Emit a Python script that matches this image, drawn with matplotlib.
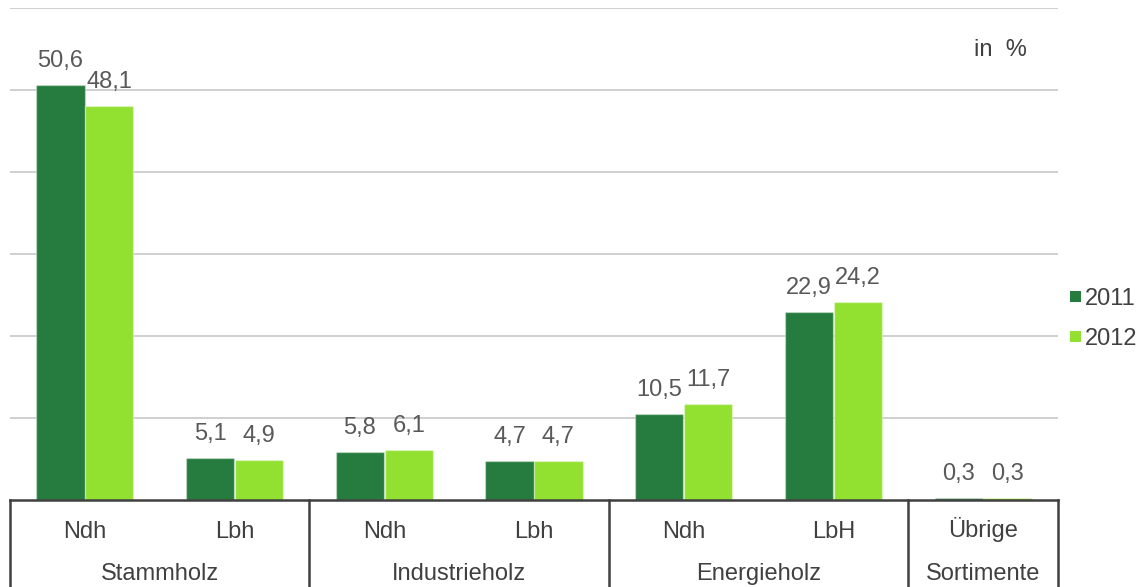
import matplotlib
matplotlib.use("Agg")
import matplotlib.pyplot as plt
from matplotlib.patches import Rectangle
import numpy as np

plt.rcParams['font.family'] = ['Liberation Sans', 'DejaVu Sans']

sub_labels = ["Ndh", "Lbh", "Ndh", "Lbh", "Ndh", "LbH", "Übrige"]
groups = ["Stammholz", "Industrieholz", "Energieholz", "Sortimente"]
group_spans = [(0, 1), (2, 3), (4, 5), (6, 6)]
series_names = ["2011", "2012"]
values_2011 = [50.6, 5.1, 5.8, 4.7, 10.5, 22.9, 0.3]
values_2012 = [48.1, 4.9, 6.1, 4.7, 11.7, 24.2, 0.3]
colors = ["#267c3e", "#92e030"]
label_color = "#595959"
text_color = "#404040"
FS = 17

W, H = 1146, 587
PT = 72 / 100  # points per pixel
fig = plt.figure(figsize=(W / 100, H / 100), dpi=100)
left, right, bottom, top = 10 / W, 1058 / W, (H - 500) / H, (H - 8) / H
ax = fig.add_axes([left, bottom, right - left, top - bottom])

x = np.arange(len(sub_labels))
bw = 0.322
for i, (vals, c, name) in enumerate(zip([values_2011, values_2012], colors, series_names)):
    off = -0.163 if i == 0 else 0.163
    ax.bar(x + off, vals, width=bw, color=c, edgecolor=(1, 1, 1, 0.35),
           linewidth=1.0, zorder=3, label=name)
    for xi, v in zip(x + off, vals):
        ax.annotate(f"{v:.1f}".replace(".", ","), (xi, v), xytext=(0, 18 * PT),
                    textcoords="offset points", ha="center", va="baseline",
                    fontsize=FS, color=label_color)

ax.set_xlim(-0.5, len(sub_labels) - 0.5)
ax.set_ylim(0, 60)
ax.set_yticks([10, 20, 30, 40, 50, 60])
ax.yaxis.grid(True, color="#cccccc", linewidth=1.3, zorder=0)
ax.tick_params(left=False, labelleft=False, bottom=False, labelbottom=False)
for s in ["left", "right", "top"]:
    ax.spines[s].set_visible(False)
ax.spines["bottom"].set_color(text_color)
ax.spines["bottom"].set_linewidth(1.8)
ax.spines["bottom"].set_zorder(4)

# category axis
ax_h_px = 500 - 8
yb = -(H - 500) / ax_h_px
for xs in [-0.5, 1.5, 3.5, 5.5, 6.5]:
    ax.plot([xs, xs], [0, yb], transform=ax.get_xaxis_transform(), color=text_color,
            linewidth=1.8, clip_on=False, zorder=5)

for xi, lab in zip(x, sub_labels):
    ax.annotate(lab, (xi, 0), xycoords=("data", "axes fraction"), xytext=(0, -37.5 * PT),
                textcoords="offset points", ha="center", va="baseline",
                fontsize=FS, color=text_color)
for (a, b), g in zip(group_spans, groups):
    ax.annotate(g, ((a + b) / 2, 0), xycoords=("data", "axes fraction"), xytext=(0, -80 * PT),
                textcoords="offset points", ha="center", va="baseline",
                fontsize=FS, color=text_color)

fig.text(1000 / W, 1 - 56 / H, "in  %", ha="center", va="baseline", fontsize=FS, color=text_color)

# legend
for k, (c, name) in enumerate(zip(colors, series_names)):
    ybase = 305 + 40 * k
    fig.patches.append(Rectangle((1070 / W, 1 - (ybase - 3) / H), 11 / W, 11 / H,
                                 transform=fig.transFigure, facecolor=c, edgecolor="none"))
    fig.text(1085 / W, 1 - ybase / H, name, ha="left", va="baseline", fontsize=FS, color=text_color)

fig.savefig("out.png", dpi=100)
